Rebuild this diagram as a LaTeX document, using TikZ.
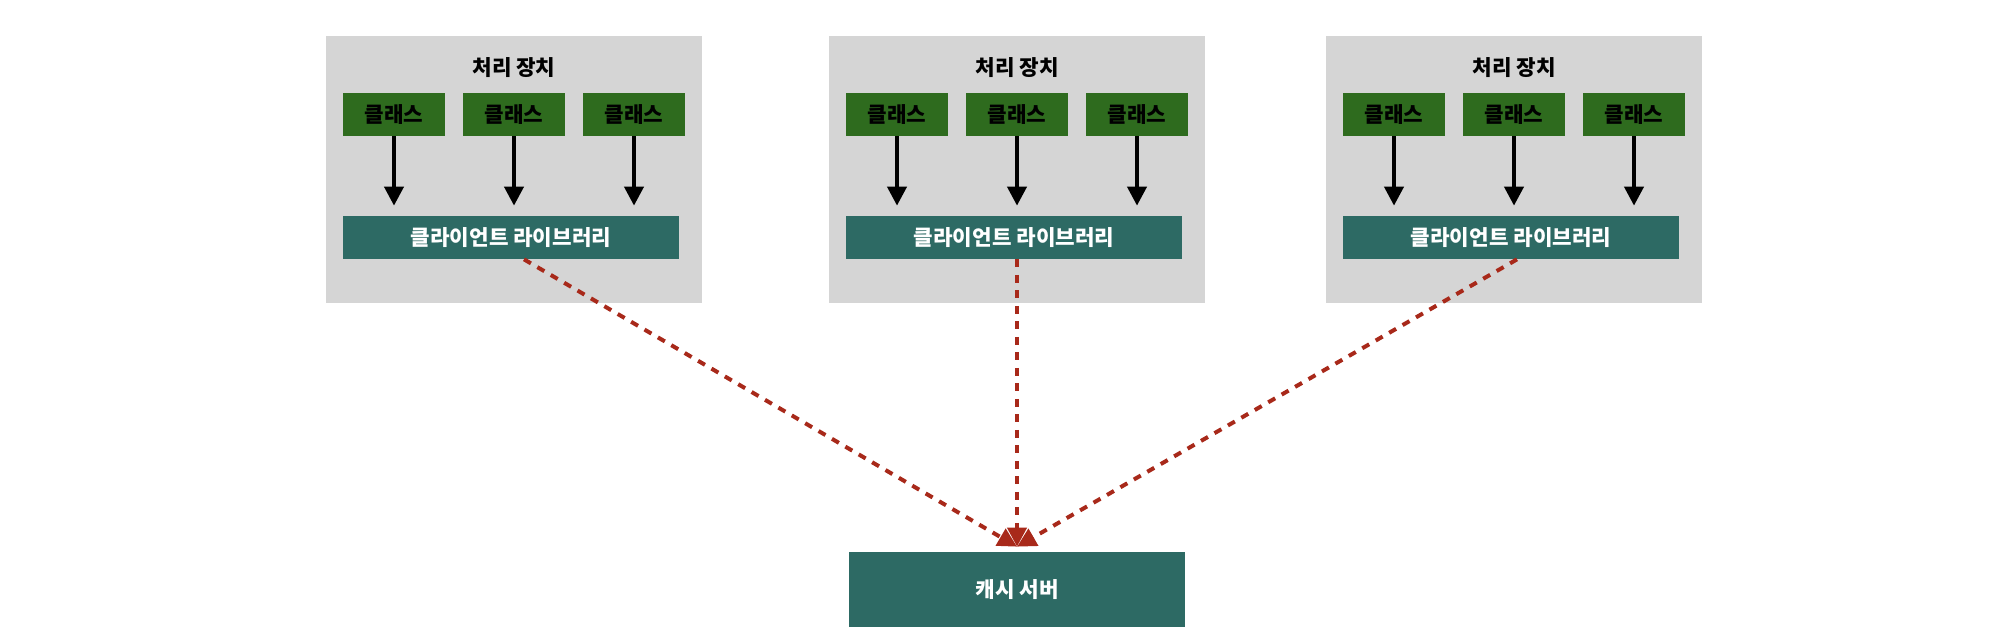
\documentclass[tikz,border=0pt]{standalone}
\usepackage{fontspec}
\setmainfont{Noto Sans CJK KR}
\usetikzlibrary{arrows.meta}
\definecolor{panelgray}{HTML}{D5D5D5}
\definecolor{classgreen}{HTML}{2E6B1E}
\definecolor{libteal}{HTML}{2D6A64}
\definecolor{linkred}{HTML}{A8291A}
\tikzset{
  boldtext/.style={font=\bfseries\fontsize{12.1}{14}\selectfont},
  panel/.style={fill=panelgray, minimum width=7.52cm, minimum height=5.34cm},
  classbox/.style={fill=classgreen, boldtext, minimum width=2.04cm, minimum height=0.86cm},
  libbox/.style={fill=libteal, text=white, boldtext, minimum width=6.72cm, minimum height=0.86cm},
  callarrow/.style={line width=0.08cm, -{Triangle[length=0.38cm,width=0.38cm]}},
  cachelink/.style={linkred, line width=0.08cm, dash pattern=on 0.16cm off 0.15cm, -{Triangle[length=0.38cm,width=0.38cm]}}
}
\begin{document}
\begin{tikzpicture}[x=0.02cm,y=-0.02cm]
  \useasboundingbox (0,0) rectangle (2004,636);
  % processing units
  \foreach \n/\L in {1/326,2/829,3/1326}{
    \node[panel] (p\n) at ({\L+188},169.5) {};
    \node[boldtext] (t\n) at ({\L+188},68) {처리 장치};
    \node[classbox] (c\n a) at ({\L+68},114.5) {클래스};
    \node[classbox] (c\n b) at ({\L+188},114.5) {클래스};
    \node[classbox] (c\n c) at ({\L+308},114.5) {클래스};
    \node[libbox] (lib\n) at ({\L+185},237.5) {클라이언트 라이브러리};
    \foreach \k in {a,b,c}
      \draw[callarrow, shorten >=0.2cm] (c\n\k.south) -- (lib\n.north -| c\n\k.south);
  }
  % cache server
  \node[fill=libteal, text=white, boldtext, minimum width=6.72cm, minimum height=1.5cm] (cache) at (1017,589.5) {캐시 서버};
  \coordinate (tip) at ([yshift=0.1cm]cache.north);
  \draw[cachelink] ([xshift=0.26cm]lib1.south) -- (tip);
  \draw[cachelink] ([xshift=0.12cm]lib3.south) -- (tip);
  \draw[cachelink] (lib2.south -| tip) -- (tip);
\end{tikzpicture}
\end{document}
